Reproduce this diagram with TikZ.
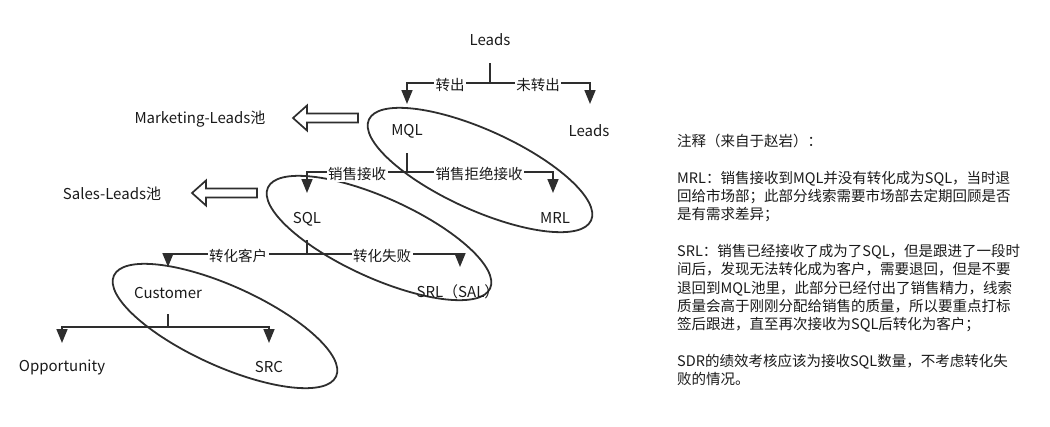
\documentclass[tikz,border=0pt]{standalone}
\usepackage{fontspec}
\setmainfont{Noto Sans CJK SC}
\usetikzlibrary{arrows.meta,shapes.geometric}
\definecolor{ink}{HTML}{2E2E2E}
\definecolor{txt}{HTML}{1A1A1A}
\tikzset{
  lbl/.style={text=txt, inner sep=0pt, font=\fontsize{15}{18}\selectfont},
  edgelbl/.style={text=txt, fill=white, inner sep=1.5pt, font=\fontsize{14.5}{18}\selectfont},
  wire/.style={draw=ink, line width=1.7pt},
  arr/.style={wire, -{Triangle[width=11pt,length=14pt]}},
  ring/.style={draw=ink, line width=1.8pt, ellipse, inner sep=0pt, minimum width=244pt, minimum height=80pt, rotate=-24.4},
  hollowarrow/.pic={\draw[draw=ink, line width=1.7pt, fill=white] (0,0) -- ++(14,-12.5) -- ++(0,8) -- ++(51,0) -- ++(0,9) -- ++(-51,0) -- ++(0,8) -- cycle;}
}
\begin{document}
\begin{tikzpicture}[x=1pt,y=-1pt]
\useasboundingbox (0,0) rectangle (1050,426);

% ellipses
\node[ring] (e1) at (480,170) {};
\node[ring] (e2) at (379,238) {};
\node[ring] (e3) at (225,326) {};

% text nodes
\node[lbl] (leads0) at (490,40) {Leads};
\node[lbl] (mql) at (407,131) {MQL};
\node[lbl] (leads1) at (589,131) {Leads};
\node[lbl] (mrl) at (555,218) {MRL};
\node[lbl] (sql) at (307,219) {SQL};
\node[lbl] (srl) at (458,292) {SRL（SAL）};
\node[lbl] (cust) at (168,293) {Customer};
\node[lbl] (opp) at (62,367) {Opportunity};
\node[lbl] (src) at (269,367) {SRC};
\node[lbl] (mpool) at (200,119) {Marketing-Leads池};
\node[lbl] (spool) at (112,194) {Sales-Leads池};

% tree 1
\coordinate (s1) at (490,63);
\coordinate (j1) at (490,83);
\coordinate (t1a) at (407,104);
\coordinate (t1b) at (590,104);
\draw[wire] (s1) -- (j1);
\draw[arr] (j1) -| (t1a);
\draw[arr] (j1) -| (t1b);
\node[edgelbl] (l1a) at (450,85) {转出};
\node[edgelbl] (l1b) at (538,85) {未转出};

% tree 2
\coordinate (s2) at (407,153);
\coordinate (j2) at (407,172);
\coordinate (t2a) at (307,193);
\coordinate (t2b) at (553,193);
\draw[wire] (s2) -- (j2);
\draw[arr] (j2) -| (t2a);
\draw[arr] (j2) -| (t2b);
\node[edgelbl] (l2a) at (357,174) {销售接收};
\node[edgelbl] (l2b) at (479,174) {销售拒绝接收};

% tree 3
\coordinate (s3) at (307,240);
\coordinate (j3) at (307,254);
\coordinate (t3a) at (168,267);
\coordinate (t3b) at (460,267);
\draw[wire] (s3) -- (j3);
\draw[arr] (j3) -| (t3a);
\draw[arr] (j3) -| (t3b);
\node[edgelbl] (l3a) at (238,256) {转化客户};
\node[edgelbl] (l3b) at (382,256) {转化失败};

% tree 4
\coordinate (s4) at (168,314);
\coordinate (j4) at (168,327);
\coordinate (t4a) at (62,343);
\coordinate (t4b) at (269,343);
\draw[wire] (s4) -- (j4);
\draw[arr] (j4) -| (t4a);
\draw[arr] (j4) -| (t4b);

% hollow arrows
\pic at (293,118) {hollowarrow};
\pic at (192,193) {hollowarrow};

% notes
\node[anchor=north west, align=left, inner sep=0pt, text=txt, font=\fontsize{14.5}{18.3}\selectfont] (notes) at (677,134) {%
注释（来自于赵岩）：\\[18.3pt]
MRL：销售接收到MQL并没有转化成为SQL，当时退\\
回给市场部；此部分线索需要市场部去定期回顾是否\\
是有需求差异；\\[18.3pt]
SRL：销售已经接收了成为了SQL，但是跟进了一段时\\
间后，发现无法转化成为客户，需要退回，但是不要\\
退回到MQL池里，此部分已经付出了销售精力，线索\\
质量会高于刚刚分配给销售的质量，所以要重点打标\\
签后跟进，直至再次接收为SQL后转化为客户；\\[18.3pt]
SDR的绩效考核应该为接收SQL数量，不考虑转化失\\
败的情况。};
\end{tikzpicture}
\end{document}
